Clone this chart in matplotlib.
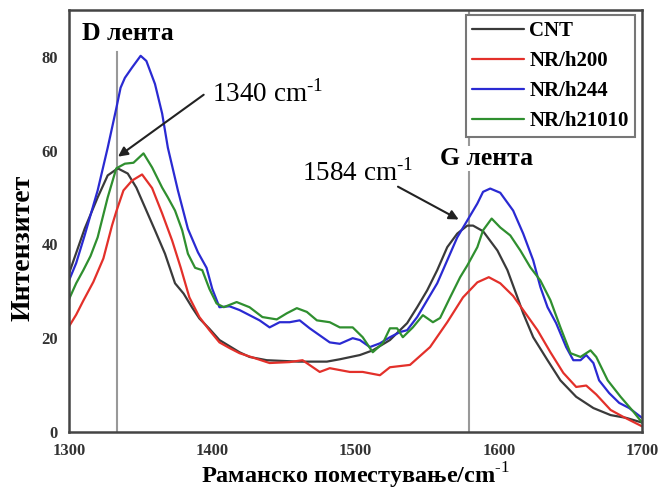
import numpy as np
import matplotlib.pyplot as plt

plt.rcParams['font.family'] = ['Liberation Serif', 'DejaVu Serif']
plt.rcParams['mathtext.fontset'] = 'custom'
plt.rcParams['mathtext.rm'] = 'Liberation Serif'
plt.rcParams['mathtext.bf'] = 'Liberation Serif:bold'

# CNT
x_cnt = [1300, 1311, 1320, 1327, 1334, 1341, 1347, 1353, 1360, 1367, 1374, 1380, 1386,
         1391, 1398, 1405, 1412, 1419, 1426, 1438, 1460, 1480, 1489, 1503, 1512, 1524,
         1536, 1543, 1550, 1557, 1564, 1571, 1578, 1582, 1589, 1599, 1606, 1613, 1617,
         1624, 1634, 1643, 1654, 1666, 1678, 1689, 1700]
y_cnt = [33.8, 43.4, 50, 54.7, 56.2, 55.1, 52.1, 47.9, 43, 38, 31.7, 29.5, 26.5,
         24.2, 22, 19.6, 18.3, 17, 16, 15.3, 15, 15, 15.5, 16.4, 17.4, 19.6,
         23.2, 26.6, 30.2, 34.5, 39.4, 42.3, 44, 44, 42.8, 38.7, 34.5, 28.7, 25.3,
         20.2, 15.3, 11, 7.5, 5.1, 3.6, 3, 2]

# NR/h200
x_h200 = [1300, 1305, 1310, 1317, 1324, 1330, 1333, 1338, 1344, 1351, 1358, 1365, 1372,
          1378, 1384, 1391, 1398, 1405, 1412, 1419, 1426, 1440, 1454, 1463, 1475, 1482,
          1496, 1505, 1517, 1524, 1538, 1552, 1564, 1575, 1585, 1593, 1601, 1610, 1617,
          1627, 1636, 1645, 1654, 1661, 1668, 1678, 1687, 1700]
y_h200 = [22.5, 25, 28, 32, 37, 44, 47, 51.5, 53.6, 54.9, 52, 46.6, 40.8,
          35, 28.7, 24.5, 21.7, 19.1, 17.9, 16.8, 16.1, 14.7, 14.9, 15.3, 12.8, 13.6,
          12.8, 12.8, 12.1, 13.8, 14.3, 18.1, 23.4, 28.7, 31.9, 33, 31.7, 29, 26,
          21.7, 17, 12.6, 9.6, 9.9, 8, 4.7, 3.2, 1.2]

# NR/h244
x_h244 = [1300, 1305, 1311, 1320, 1327, 1333, 1336, 1339, 1344, 1350, 1354, 1360, 1365,
          1369, 1376, 1383, 1390, 1396, 1400, 1405, 1412, 1419, 1426, 1433, 1440, 1447,
          1454, 1461, 1468, 1475, 1482, 1489, 1498, 1503, 1510, 1517, 1524, 1531, 1536,
          1543, 1550, 1557, 1564, 1571, 1578, 1585, 1589, 1594, 1601, 1610, 1617, 1624,
          1629, 1634, 1640, 1647, 1652, 1657, 1661, 1666, 1670, 1677, 1684, 1691, 1700]
y_h244 = [32.3, 36, 42, 51.5, 60.6, 69, 73.4, 75.5, 77.7, 80.2, 79.1, 74.2, 67.9,
          60.6, 51.5, 43.3, 38.3, 35, 30.5, 26.6, 26.8, 26, 24.9, 23.8, 22.3, 23.4,
          23.4, 23.8, 22.1, 20.6, 19.1, 18.8, 20, 19.6, 18.1, 18.9, 20.2, 21.3, 21.7,
          24.5, 28.1, 31.7, 36.6, 41.5, 45.1, 48.7, 51.2, 51.9, 51, 47.2, 42.3, 36.6,
          30.9, 26.6, 23.2, 18.1, 15.3, 15.3, 16.4, 14.7, 11, 8.3, 6.2, 5.1, 3]

# NR/h21010
x_h21010 = [1300, 1305, 1310, 1315, 1320, 1327, 1333, 1339, 1345, 1352, 1358, 1365, 1369,
            1374, 1379, 1383, 1388, 1393, 1398, 1403, 1408, 1417, 1426, 1435, 1445, 1452,
            1459, 1466, 1473, 1482, 1489, 1498, 1505, 1512, 1519, 1524, 1529, 1533, 1540,
            1547, 1554, 1559, 1566, 1573, 1578, 1585, 1589, 1595, 1601, 1608, 1615, 1622,
            1629, 1636, 1643, 1650, 1657, 1664, 1668, 1676, 1685, 1694, 1700]
y_h21010 = [28.3, 31.7, 34.5, 37.5, 41.5, 50, 56.2, 57.2, 57.4, 59.4, 56.4, 52.1, 50,
            47.2, 43, 38, 35, 34.5, 30.5, 27.4, 26.6, 27.7, 26.6, 24.5, 24, 25.3,
            26.4, 25.6, 23.8, 23.4, 22.3, 22.3, 20.2, 17, 18.9, 22.1, 22.1, 20.2, 22.3,
            24.9, 23.4, 24.3, 28.7, 33, 35.5, 39.4, 43, 45.5, 43.6, 41.9, 38.7, 35.1,
            32.3, 28.1, 22.3, 16.8, 16, 17.4, 16, 11, 7.5, 4.3, 2]

fig = plt.figure(figsize=(6.61, 4.92), dpi=100)
ax = fig.add_axes([0.1044, 0.122, 0.867, 0.858])

# band positions
ax.axvline(1333.5, ymax=0.9, color='#999999', lw=1.5, zorder=1)
ax.axvline(1579, color='#999999', lw=1.5, zorder=1)

kw = dict(lw=1.6, solid_joinstyle='round', solid_capstyle='round')
ax.plot(x_cnt, y_cnt, color='#3a3a3a', label='CNT', **kw)
ax.plot(x_h200, y_h200, color='#e3302a', label='NR/h200', **kw)
ax.plot(x_h244, y_h244, color='#2a2ad2', label='NR/h244', **kw)
ax.plot(x_h21010, y_h21010, color='#2f8f2f', label='NR/h21010', **kw)

ax.set_xlim(1300, 1700)
ax.set_ylim(0, 90)
ax.set_xticks([1300, 1400, 1500, 1600, 1700])
ax.set_yticks([0, 20, 40, 60, 80])
ax.tick_params(length=0, labelsize=12, colors='#333333')
ax.tick_params(axis='x', pad=8)
ax.tick_params(axis='y', pad=8)
for lab in ax.get_xticklabels() + ax.get_yticklabels():
    lab.set_fontweight('bold')
for sp in ax.spines.values():
    sp.set_color('#444444')
    sp.set_linewidth(1.8)

sup = '$^{\\mathbf{\\text{-1}}}$'
ax.set_xlabel('Раманско поместување/cm' + sup, fontsize=17.5, fontweight='bold', labelpad=1)
ax.set_ylabel('Интензитет', fontsize=20, fontweight='bold')
ax.yaxis.set_label_coords(-0.058, 0.436)

ax.text(1309, 84.9, 'D лента', fontsize=18.5, fontweight='bold', va='center', ha='left',
        bbox=dict(facecolor='white', edgecolor='none', pad=1))
ax.text(1559, 58.3, 'G лента', fontsize=18.5, fontweight='bold', va='center', ha='left',
        bbox=dict(facecolor='white', edgecolor='none', pad=1))

supn = '$^{\\text{-1}}$'
arrow = dict(arrowstyle='-|>', color='#222222', lw=1.5, mutation_scale=14,
             shrinkA=0, shrinkB=0)
ax.text(1399.8, 72.2, '1340 cm' + supn, fontsize=19.5, va='center', ha='left')
ax.annotate('', xy=(1334.2, 58.7), xytext=(1394, 71.9), arrowprops=arrow)
ax.text(1462.6, 55.3, '1584 cm' + supn, fontsize=19.5, va='center', ha='left')
ax.annotate('', xy=(1572, 45.3), xytext=(1529.6, 52.3), arrowprops=arrow)

leg = ax.legend(loc='upper right', bbox_to_anchor=(0.9875, 0.988), fancybox=False,
                edgecolor='#777777', framealpha=1, handlelength=2.5, handletextpad=0.25,
                labelspacing=0.48, borderpad=0.3, borderaxespad=0,
                prop={'weight': 'bold', 'size': 15})
leg.get_frame().set_linewidth(1.5)

fig.savefig('out.png', dpi=100)
